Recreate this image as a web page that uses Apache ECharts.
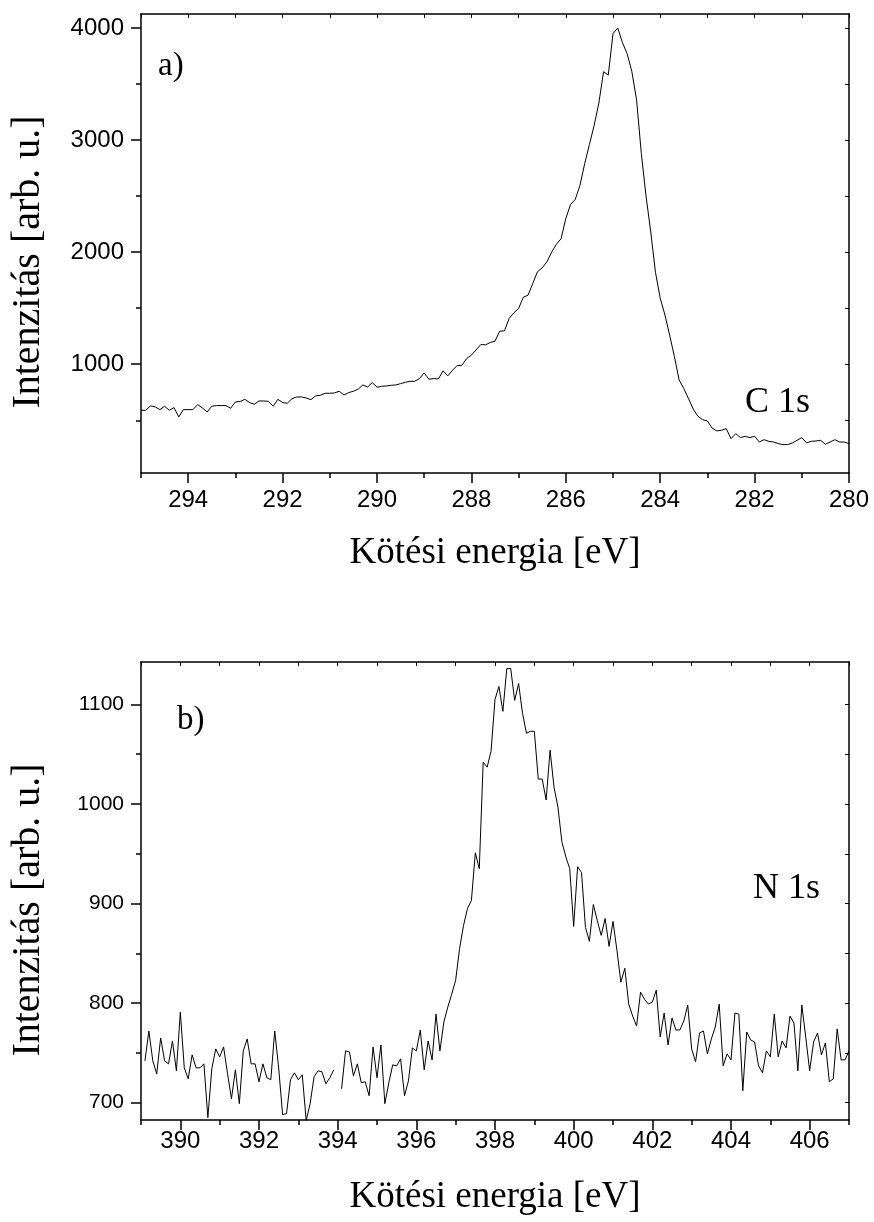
<!DOCTYPE html>
<html>
<head>
<meta charset="utf-8">
<script src="https://cdn.jsdelivr.net/npm/echarts@6/dist/echarts.min.js"></script>
<style>
html,body{margin:0;padding:0;background:#fff;}
#chart{width:874px;height:1222px;}
</style>
</head>
<body>
<div id="chart"></div>
<script>
// ---- Panel a) C 1s ----
const energyC = [
295.0,294.9,294.8,294.7,294.6,294.5,294.4,294.3,294.2,294.1,
294.0,293.9,293.8,293.7,293.6,293.5,293.4,293.3,293.2,293.1,
293.0,292.9,292.8,292.7,292.6,292.5,292.4,292.3,292.2,292.1,
292.0,291.9,291.8,291.7,291.6,291.5,291.4,291.3,291.2,291.1,
291.0,290.9,290.8,290.7,290.6,290.5,290.4,290.3,290.2,290.1,
290.0,289.9,289.8,289.7,289.6,289.5,289.4,289.3,289.2,289.1,
289.0,288.9,288.8,288.7,288.6,288.5,288.4,288.3,288.2,288.1,
288.0,287.9,287.8,287.7,287.6,287.5,287.4,287.3,287.2,287.1,
287.0,286.9,286.8,286.7,286.6,286.5,286.4,286.3,286.2,286.1,
286.0,285.9,285.8,285.7,285.6,285.5,285.4,285.3,285.2,285.1,
285.0,284.9,284.8,284.7,284.6,284.5,284.4,284.3,284.2,284.1,
284.0,283.9,283.8,283.7,283.6,283.5,283.4,283.3,283.2,283.1,
283.0,282.9,282.8,282.7,282.6,282.5,282.4,282.3,282.2,282.1,
282.0,281.9,281.8,281.7,281.6,281.5,281.4,281.3,281.2,281.1,
281.0,280.9,280.8,280.7,280.6,280.5,280.4,280.3,280.2,280.1,
280.0
];
const intensityC = [
589,589,628,619,595,625,589,613,530,595,
595,595,640,610,574,625,631,631,631,607,
664,667,687,658,643,672,672,669,625,687,
658,652,693,708,708,699,684,717,723,741,
741,744,759,726,747,759,777,815,797,836,
795,803,806,812,815,827,839,848,848,872,
923,866,872,869,941,896,947,988,991,1051,
1081,1128,1176,1173,1194,1206,1295,1298,1408,1459,
1497,1598,1616,1720,1825,1860,1914,2000,2070,2120,
2300,2425,2470,2595,2790,2960,3130,3330,3610,3580,
3950,4000,3870,3770,3610,3357,2880,2500,2180,1820,
1590,1440,1260,1070,860,783,693,600,535,505,
494,430,405,411,425,336,381,345,357,345,
357,306,327,312,306,292,283,283,298,321,
345,298,312,315,321,286,306,327,306,306,
292
];
const xMajorC = [280,282,284,286,288,290,292,294];
const xMinorC = [281,283,285,287,289,291,293,295];
const xMirrorC = [280,281,282,283,284,285,286,287,288,289,290,291,292,293,294,295];
const yMajorC = [1000,2000,3000,4000];
const yMinorC = [500,1500,2500,3500];
const yMirrorC = [500,1000,1500,2000,2500,3000,3500,4000];

// ---- Panel b) N 1s ----
const energyN = [
389.1,389.2,389.3,389.4,389.5,389.6,389.7,389.8,389.9,390.0,
390.1,390.2,390.3,390.4,390.5,390.6,390.7,390.8,390.9,391.0,
391.1,391.2,391.3,391.4,391.5,391.6,391.7,391.8,391.9,392.0,
392.1,392.2,392.3,392.4,392.5,392.6,392.7,392.8,392.9,393.0,
393.1,393.2,393.3,393.4,393.5,393.6,393.7,393.8,393.9,394.0,
394.1,394.2,394.3,394.4,394.5,394.6,394.7,394.8,394.9,395.0,
395.1,395.2,395.3,395.4,395.5,395.6,395.7,395.8,395.9,396.0,
396.1,396.2,396.3,396.4,396.5,396.6,396.7,396.8,396.9,397.0,
397.1,397.2,397.3,397.4,397.5,397.6,397.7,397.8,397.9,398.0,
398.1,398.2,398.3,398.4,398.5,398.6,398.7,398.8,398.9,399.0,
399.1,399.2,399.3,399.4,399.5,399.6,399.7,399.8,399.9,400.0,
400.1,400.2,400.3,400.4,400.5,400.6,400.7,400.8,400.9,401.0,
401.1,401.2,401.3,401.4,401.5,401.6,401.7,401.8,401.9,402.0,
402.1,402.2,402.3,402.4,402.5,402.6,402.7,402.8,402.9,403.0,
403.1,403.2,403.3,403.4,403.5,403.6,403.7,403.8,403.9,404.0,
404.1,404.2,404.3,404.4,404.5,404.6,404.7,404.8,404.9,405.0,
405.1,405.2,405.3,405.4,405.5,405.6,405.7,405.8,405.9,406.0,
406.1,406.2,406.3,406.4,406.5,406.6,406.7,406.8,406.9,407.0
];
const intensityN = [
742,772,742,729,765,742,739,762,732,791,
735,724,748,735,735,739,685,734,754,746,
756,729,704,733,699,752,764,739,739,721,
739,725,723,772,735,688,689,723,730,723,
728,682,699,726,732,731,719,725,733,null,
714,752,751,727,739,720,721,707,756,725,
758,699,720,738,737,744,707,722,755,752,
773,733,762,743,789,752,781,796,809,823,
855,878,895,903,951,935,1042,1037,1053,1105,
1118,1093,1136,1136,1104,1121,1091,1071,1073,1073,
1025,1025,1004,1054,1017,997,962,947,935,877,
937,931,876,862,899,883,868,885,857,882,
853,821,835,799,787,777,811,804,799,801,
813,766,790,758,785,773,773,782,798,754,
741,770,772,749,764,776,799,737,749,743,
790,789,712,771,763,761,737,730,752,746,
789,746,762,755,787,780,732,798,766,732,
761,770,748,760,721,724,774,743,743,752
];
const xMajorN = [390,392,394,396,398,400,402,404,406];
const xMinorN = [389,391,393,395,397,399,401,403,405,407];
const xMirrorN = [389,390,391,392,393,394,395,396,397,398,399,400,401,402,403,404,405,406,407];
const yMajorN = [700,800,900,1000,1100];
const yMinorN = [750,850,950,1050];
const yMirrorN = [700,750,800,850,900,950,1000,1050,1100];

const xTitle = 'Kötési energia [eV]';
const yTitle = 'Intenzitás [arb. u.]';

const SANS = '"Liberation Sans", Arial, sans-serif';
const SERIF = '"Liberation Serif", "Times New Roman", serif';
const BLACK = '#000';

function pairs(xs, ys){ return xs.map((x,i)=>[x, ys[i]]); }

function xAxesFor(grid, min, max, inverse, major, minor, mirror, labelSize, margin){
  const line = {color:BLACK, width:1.5};
  return [
    {gridIndex:grid, type:'value', min:min, max:max, inverse:inverse, position:'bottom',
     axisLine:{show:true, onZero:false, lineStyle:line},
     axisTick:{show:true, customValues:major, length:10, lineStyle:line},
     axisLabel:{show:true, customValues:major, color:BLACK, fontFamily:SANS, fontSize:labelSize, margin:margin, formatter:v=>String(v)},
     splitLine:{show:false}},
    {gridIndex:grid, type:'value', min:min, max:max, inverse:inverse, position:'bottom',
     axisLine:{show:false, onZero:false},
     axisTick:{show:true, customValues:minor, length:5, lineStyle:line},
     axisLabel:{show:false}, splitLine:{show:false}},
    {gridIndex:grid, type:'value', min:min, max:max, inverse:inverse, position:'top',
     axisLine:{show:true, onZero:false, lineStyle:line},
     axisTick:{show:true, inside:true, customValues:mirror, length:4, lineStyle:{color:BLACK,width:1}},
     axisLabel:{show:false}, splitLine:{show:false}}
  ];
}
function yAxesFor(grid, min, max, major, minor, mirror, labelSize, margin){
  const line = {color:BLACK, width:1.5};
  return [
    {gridIndex:grid, type:'value', min:min, max:max, position:'left',
     axisLine:{show:true, onZero:false, lineStyle:line},
     axisTick:{show:true, customValues:major, length:10, lineStyle:line},
     axisLabel:{show:true, customValues:major, color:BLACK, fontFamily:SANS, fontSize:labelSize, margin:margin, formatter:v=>String(v)},
     splitLine:{show:false}},
    {gridIndex:grid, type:'value', min:min, max:max, position:'left',
     axisLine:{show:false, onZero:false},
     axisTick:{show:true, customValues:minor, length:5, lineStyle:line},
     axisLabel:{show:false}, splitLine:{show:false}},
    {gridIndex:grid, type:'value', min:min, max:max, position:'right',
     axisLine:{show:true, onZero:false, lineStyle:line},
     axisTick:{show:true, inside:true, customValues:mirror, length:4, lineStyle:{color:BLACK,width:1}},
     axisLabel:{show:false}, splitLine:{show:false}}
  ];
}

const chart = echarts.init(document.getElementById('chart'), null, {renderer:'canvas'});
const option = {
  animation:false,
  backgroundColor:'#fff',
  grid:[
    {left:141, top:14, width:708, height:459},
    {left:141, top:662, width:708, height:458}
  ],
  xAxis:[].concat(
    xAxesFor(0, 280, 295, true, xMajorC, xMinorC, xMirrorC, 24, 15),
    xAxesFor(1, 389, 407, false, xMajorN, xMinorN, xMirrorN, 24, 9)
  ),
  yAxis:[].concat(
    yAxesFor(0, 29.5, 4125, yMajorC, yMinorC, yMirrorC, 24, 17),
    yAxesFor(1, 682.6, 1142.6, yMajorN, yMinorN, yMirrorN, 21, 17)
  ),
  series:[
    {type:'line', name:'C 1s', xAxisIndex:0, yAxisIndex:0, data:pairs(energyC, intensityC),
     showSymbol:false, symbol:'none', lineStyle:{color:BLACK, width:1}, connectNulls:false, silent:true},
    {type:'line', name:'N 1s', xAxisIndex:3, yAxisIndex:3, data:pairs(energyN, intensityN),
     showSymbol:false, symbol:'none', lineStyle:{color:BLACK, width:1}, connectNulls:false, silent:true}
  ],
  graphic:[
    {type:'text', x:495, y:553, style:{text:xTitle, fontFamily:SERIF, fontSize:37, fill:BLACK, align:'center', verticalAlign:'middle'}},
    {type:'text', x:495, y:1197, style:{text:xTitle, fontFamily:SERIF, fontSize:37, fill:BLACK, align:'center', verticalAlign:'middle'}},
    {type:'text', x:28, y:262, rotation:Math.PI/2, style:{text:yTitle, fontFamily:SERIF, fontSize:40, fill:BLACK, align:'center', verticalAlign:'middle'}},
    {type:'text', x:28, y:910, rotation:Math.PI/2, style:{text:yTitle, fontFamily:SERIF, fontSize:40, fill:BLACK, align:'center', verticalAlign:'middle'}},
    {type:'text', x:158, y:50, style:{text:'a)', fontFamily:SERIF, fontSize:33, fill:BLACK, align:'left', verticalAlign:'top'}},
    {type:'text', x:177, y:704, style:{text:'b)', fontFamily:SERIF, fontSize:33, fill:BLACK, align:'left', verticalAlign:'top'}},
    {type:'text', x:745, y:385, style:{text:'C 1s', fontFamily:SERIF, fontSize:36, fill:BLACK, align:'left', verticalAlign:'top'}},
    {type:'text', x:753, y:871, style:{text:'N 1s', fontFamily:SERIF, fontSize:36, fill:BLACK, align:'left', verticalAlign:'top'}}
  ]
};
chart.setOption(option);
</script>
</body>
</html>
